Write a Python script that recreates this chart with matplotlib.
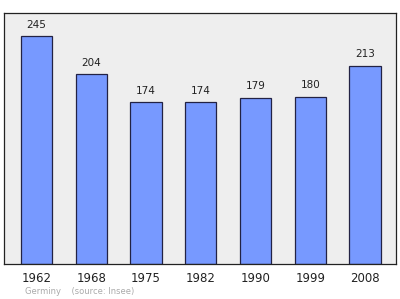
import matplotlib
matplotlib.use('Agg')
import matplotlib.pyplot as plt

years = ['1962', '1968', '1975', '1982', '1990', '1999', '2008']
population = [245, 204, 174, 174, 179, 180, 213]

fig = plt.figure(figsize=(4.0, 2.99), dpi=100)
ax = fig.add_axes([4 / 400, 1 - 264 / 299, 392 / 400, 251 / 299])
ax.set_facecolor('#eeeeee')

x = list(range(len(years)))
ax.bar(x, population, width=0.57, color='#7799ff', edgecolor='#222244', linewidth=0.9, zorder=2)
for xi, v in zip(x, population):
    ax.text(xi, v + 7, str(v), ha='center', va='bottom', fontsize=7.5, color='#222222')

ax.set_xlim(-0.594, 6.566)
ax.set_ylim(0, 270)
ax.set_yticks([])
ax.set_xticks(x)
ax.set_xticklabels(years, fontsize=8.5, color='#222222')
ax.tick_params(axis='x', length=0, pad=6)
for s in ax.spines.values():
    s.set_color('#222222')
    s.set_linewidth(0.9)

fig.text(25 / 400, 1 - 292 / 299, 'Germiny    (source: Insee)', fontsize=6, color='#aaaaaa', va='center')

fig.savefig('out.png', dpi=100)
